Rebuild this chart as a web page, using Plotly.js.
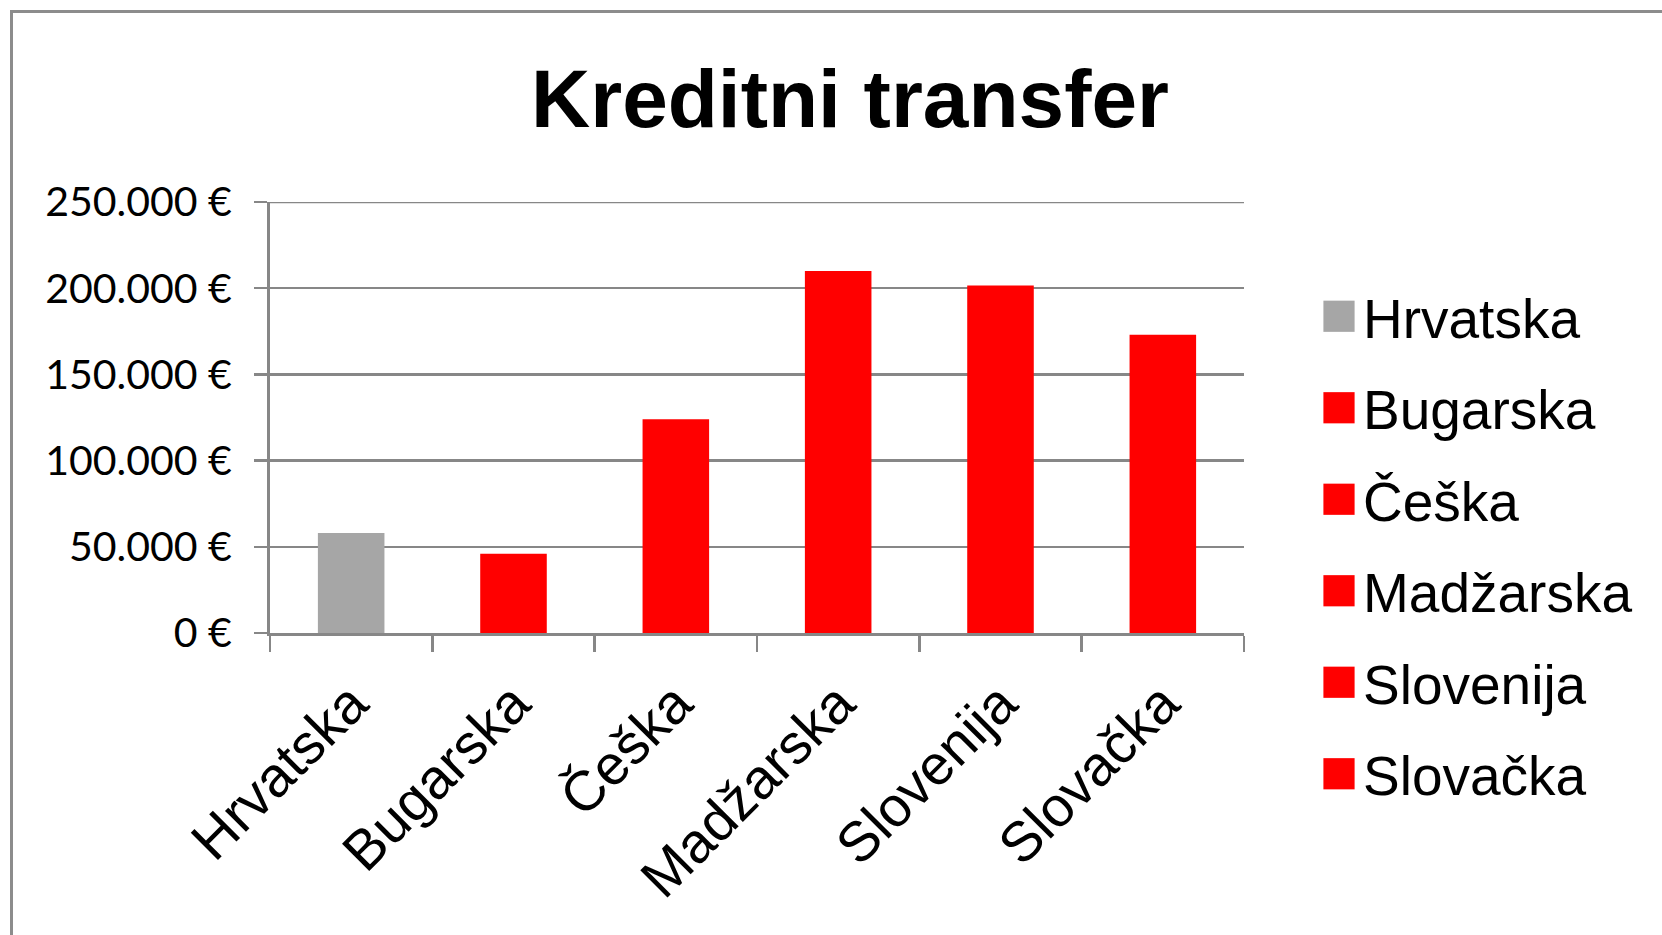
<!DOCTYPE html>
<html>
<head>
<meta charset="utf-8">
<script src="https://cdn.plot.ly/plotly-3.0.1.min.js"></script>
<style>
  html, body { margin: 0; padding: 0; background: #fff; overflow: hidden; }
  #chart { position: absolute; left: 0; top: 0; width: 1662px; height: 935px; }
  #frame { position: absolute; left: 10px; top: 10px; width: 1700px; height: 1000px;
           border-top: 3px solid #8c8c8c; border-left: 3px solid #8c8c8c; pointer-events: none; }
</style>
</head>
<body>
<div id="chart"></div>
<div id="frame"></div>
<script>
// ---- data ----
const categories = ["Hrvatska", "Bugarska", "Češka", "Madžarska", "Slovenija", "Slovačka"];
const values = [58000, 46000, 124000, 210000, 201500, 173000];
const yTickValues = [0, 50000, 100000, 150000, 200000, 250000];
const yTickLabels = ["0 €", "50.000 €", "100.000 €", "150.000 €", "200.000 €", "250.000 €"];
const chartTitle = "Kreditni transfer";

// ---- styles ----
const barColors = ["#a6a6a6", "#ff0000", "#ff0000", "#ff0000", "#ff0000", "#ff0000"];
const axisGray = "#878787";

const traces = categories.map((c, i) => ({
  type: "bar",
  name: c,
  x: [c],
  y: [values[i]],
  width: 0.41,
  marker: { color: barColors[i], line: { width: 0 } },
  legendgroup: "g" + i,
  hoverinfo: "x+y"
}));

const W = 1662, H = 935;
const yMax = yTickValues[yTickValues.length - 1];
const layout = {
  width: W, height: H,
  margin: { l: 270, r: 418, t: 202, b: 302, pad: 0 },
  paper_bgcolor: "rgba(0,0,0,0)",
  plot_bgcolor: "rgba(0,0,0,0)",
  barmode: "overlay",
  title: {
    text: "<b>" + chartTitle + "</b>",
    font: { family: "Liberation Sans, Arial, sans-serif", size: 82, color: "#000" },
    xref: "container", x: 850 / W, xanchor: "center",
    yref: "container", y: 1 - 98 / H, yanchor: "middle"
  },
  xaxis: {
    type: "category",
    categoryorder: "array", categoryarray: categories,
    range: [-0.5, categories.length - 0.5],
    showgrid: false, zeroline: false,
    showline: true, linecolor: axisGray, linewidth: 3,
    ticks: "outside", tickson: "boundaries", ticklen: 16, tickwidth: 2.5, tickcolor: axisGray,
    tickangle: -45,
    ticklabelstandoff: 12,
    tickfont: { family: "Liberation Sans, Arial, sans-serif", size: 56, color: "#000" },
    fixedrange: true
  },
  yaxis: {
    range: [0, yMax],
    tickvals: yTickValues, ticktext: yTickLabels,
    showgrid: true, gridcolor: axisGray, gridwidth: 2.5,
    zeroline: false,
    showline: true, linecolor: axisGray, linewidth: 3,
    ticks: "outside", ticklen: 13, tickwidth: 2.5, tickcolor: axisGray,
    ticklabelstandoff: 14,
    tickfont: { family: "Lato, Carlito, Calibri, sans-serif", size: 41, color: "#000" },
    fixedrange: true
  },
  shapes: [{
    type: "line", xref: "paper", yref: "y",
    x0: 0, x1: 1, y0: yMax, y1: yMax,
    line: { color: axisGray, width: 2.5 }, layer: "below"
  }],
  showlegend: true,
  legend: {
    xref: "container", yref: "container",
    x: 1323 / W, xanchor: "left",
    y: 1 - 274 / H, yanchor: "top",
    maxheight: 660,
    font: { family: "Liberation Sans, Arial, sans-serif", size: 55, color: "#000" },
    tracegroupgap: 17,
    itemwidth: 30,
    bgcolor: "rgba(0,0,0,0)",
    borderwidth: 0
  }
};

Plotly.newPlot("chart", traces, layout, { displayModeBar: false, staticPlot: true }).then(gd => {
  // enlarge the legend swatches to match the large legend text
  gd.querySelectorAll(".legend .legendpoints path").forEach(p => {
    p.setAttribute("transform", "translate(16,0) scale(2.6)");
  });
});
</script>
</body>
</html>
